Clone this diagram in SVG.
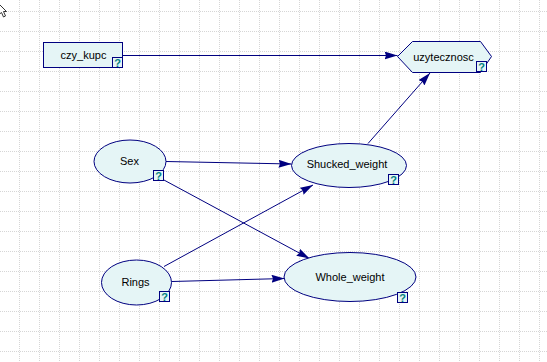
<svg xmlns="http://www.w3.org/2000/svg" width="547" height="362" viewBox="0 0 547 362">
  <defs>
    <pattern id="grid" width="20" height="20" patternUnits="userSpaceOnUse">
      <path d="M19.5,0 V20 M0,11.5 H20" stroke="#d6d6d6" stroke-width="1" stroke-dasharray="1 1" fill="none"/>
    </pattern>
    <marker id="arrow" markerUnits="userSpaceOnUse" markerWidth="14" markerHeight="9" refX="13" refY="4" orient="auto">
      <path d="M0,0 L13,4 L0,8 L1.5,4 z" fill="#000080"/>
    </marker>
  </defs>
  <style>
    .node { fill: #e5f5f6; stroke: #000080; stroke-width: 1; }
    .label { font-family: "Liberation Sans", Arial, sans-serif; font-size: 11px; fill: #000; text-anchor: middle; }
    .qbox { fill: #e5f5f6; stroke: #000080; stroke-width: 1; }
    .q { font-family: "Liberation Sans", Arial, sans-serif; font-size: 11px; font-weight: bold; fill: #008080; text-anchor: middle; }
    .edge { stroke: #000080; stroke-width: 1; fill: none; marker-end: url(#arrow); }
  </style>

  <rect width="547" height="362" fill="#ffffff"/>
  <rect width="547" height="362" fill="url(#grid)"/>

  <!-- mouse pointer at the top-left corner -->
  <path d="M-3,2 L6.5,11.5 L3.5,11.5 L5.5,16 L3.5,17 L1.5,12.5 L-3,16 z" fill="#ffffff" stroke="#333333" stroke-width="1"/>

  <g id="connectors">
    <path class="edge" d="M122.5,55.5 L397.5,55.5"/>
    <path class="edge" d="M166,161.5 L291.5,164"/>
    <path class="edge" d="M163,179.5 L309.5,258.5"/>
    <path class="edge" d="M164,266.5 L313,185"/>
    <path class="edge" d="M172,281.5 L284.5,278.5"/>
    <path class="edge" d="M368,143.5 L430,73"/>
  </g>

  <g id="czy_kupc">
    <rect class="node" x="43.5" y="42.5" width="79" height="25"/>
    <text class="label" x="83.5" y="59">czy_kupc</text>
    <rect class="qbox" x="112.5" y="57.5" width="10" height="10"/>
    <text class="q" x="117.5" y="66.5">?</text>
  </g>

  <g id="uzytecznosc">
    <polygon class="node" points="397.5,56.5 412.5,41.5 480.5,41.5 491.5,56.5 480.5,72.5 412.5,72.5"/>
    <text class="label" x="443.5" y="60.5">uzytecznosc</text>
    <rect class="qbox" x="476.5" y="61.5" width="10" height="10"/>
    <text class="q" x="481.5" y="70.5">?</text>
  </g>

  <g id="Sex">
    <ellipse class="node" cx="130" cy="161.5" rx="36" ry="21.5"/>
    <text class="label" x="129.5" y="164.5">Sex</text>
    <rect class="qbox" x="153.5" y="170.5" width="10" height="10"/>
    <text class="q" x="158.5" y="179.5">?</text>
  </g>

  <g id="Shucked_weight">
    <ellipse class="node" cx="349" cy="165.5" rx="57.5" ry="22"/>
    <text class="label" x="347" y="167.5">Shucked_weight</text>
    <rect class="qbox" x="388.5" y="174.5" width="10" height="10"/>
    <text class="q" x="393.5" y="183.5">?</text>
  </g>

  <g id="Rings">
    <ellipse class="node" cx="136.5" cy="282.5" rx="35" ry="22.5"/>
    <text class="label" x="135.5" y="285.5">Rings</text>
    <rect class="qbox" x="159.5" y="291.5" width="10" height="10"/>
    <text class="q" x="164.5" y="300.5">?</text>
  </g>

  <g id="Whole_weight">
    <ellipse class="node" cx="350" cy="277" rx="66" ry="24.5"/>
    <text class="label" x="350" y="280.5">Whole_weight</text>
    <rect class="qbox" x="397.5" y="292.5" width="10" height="10"/>
    <text class="q" x="402.5" y="301.5">?</text>
  </g>
</svg>
